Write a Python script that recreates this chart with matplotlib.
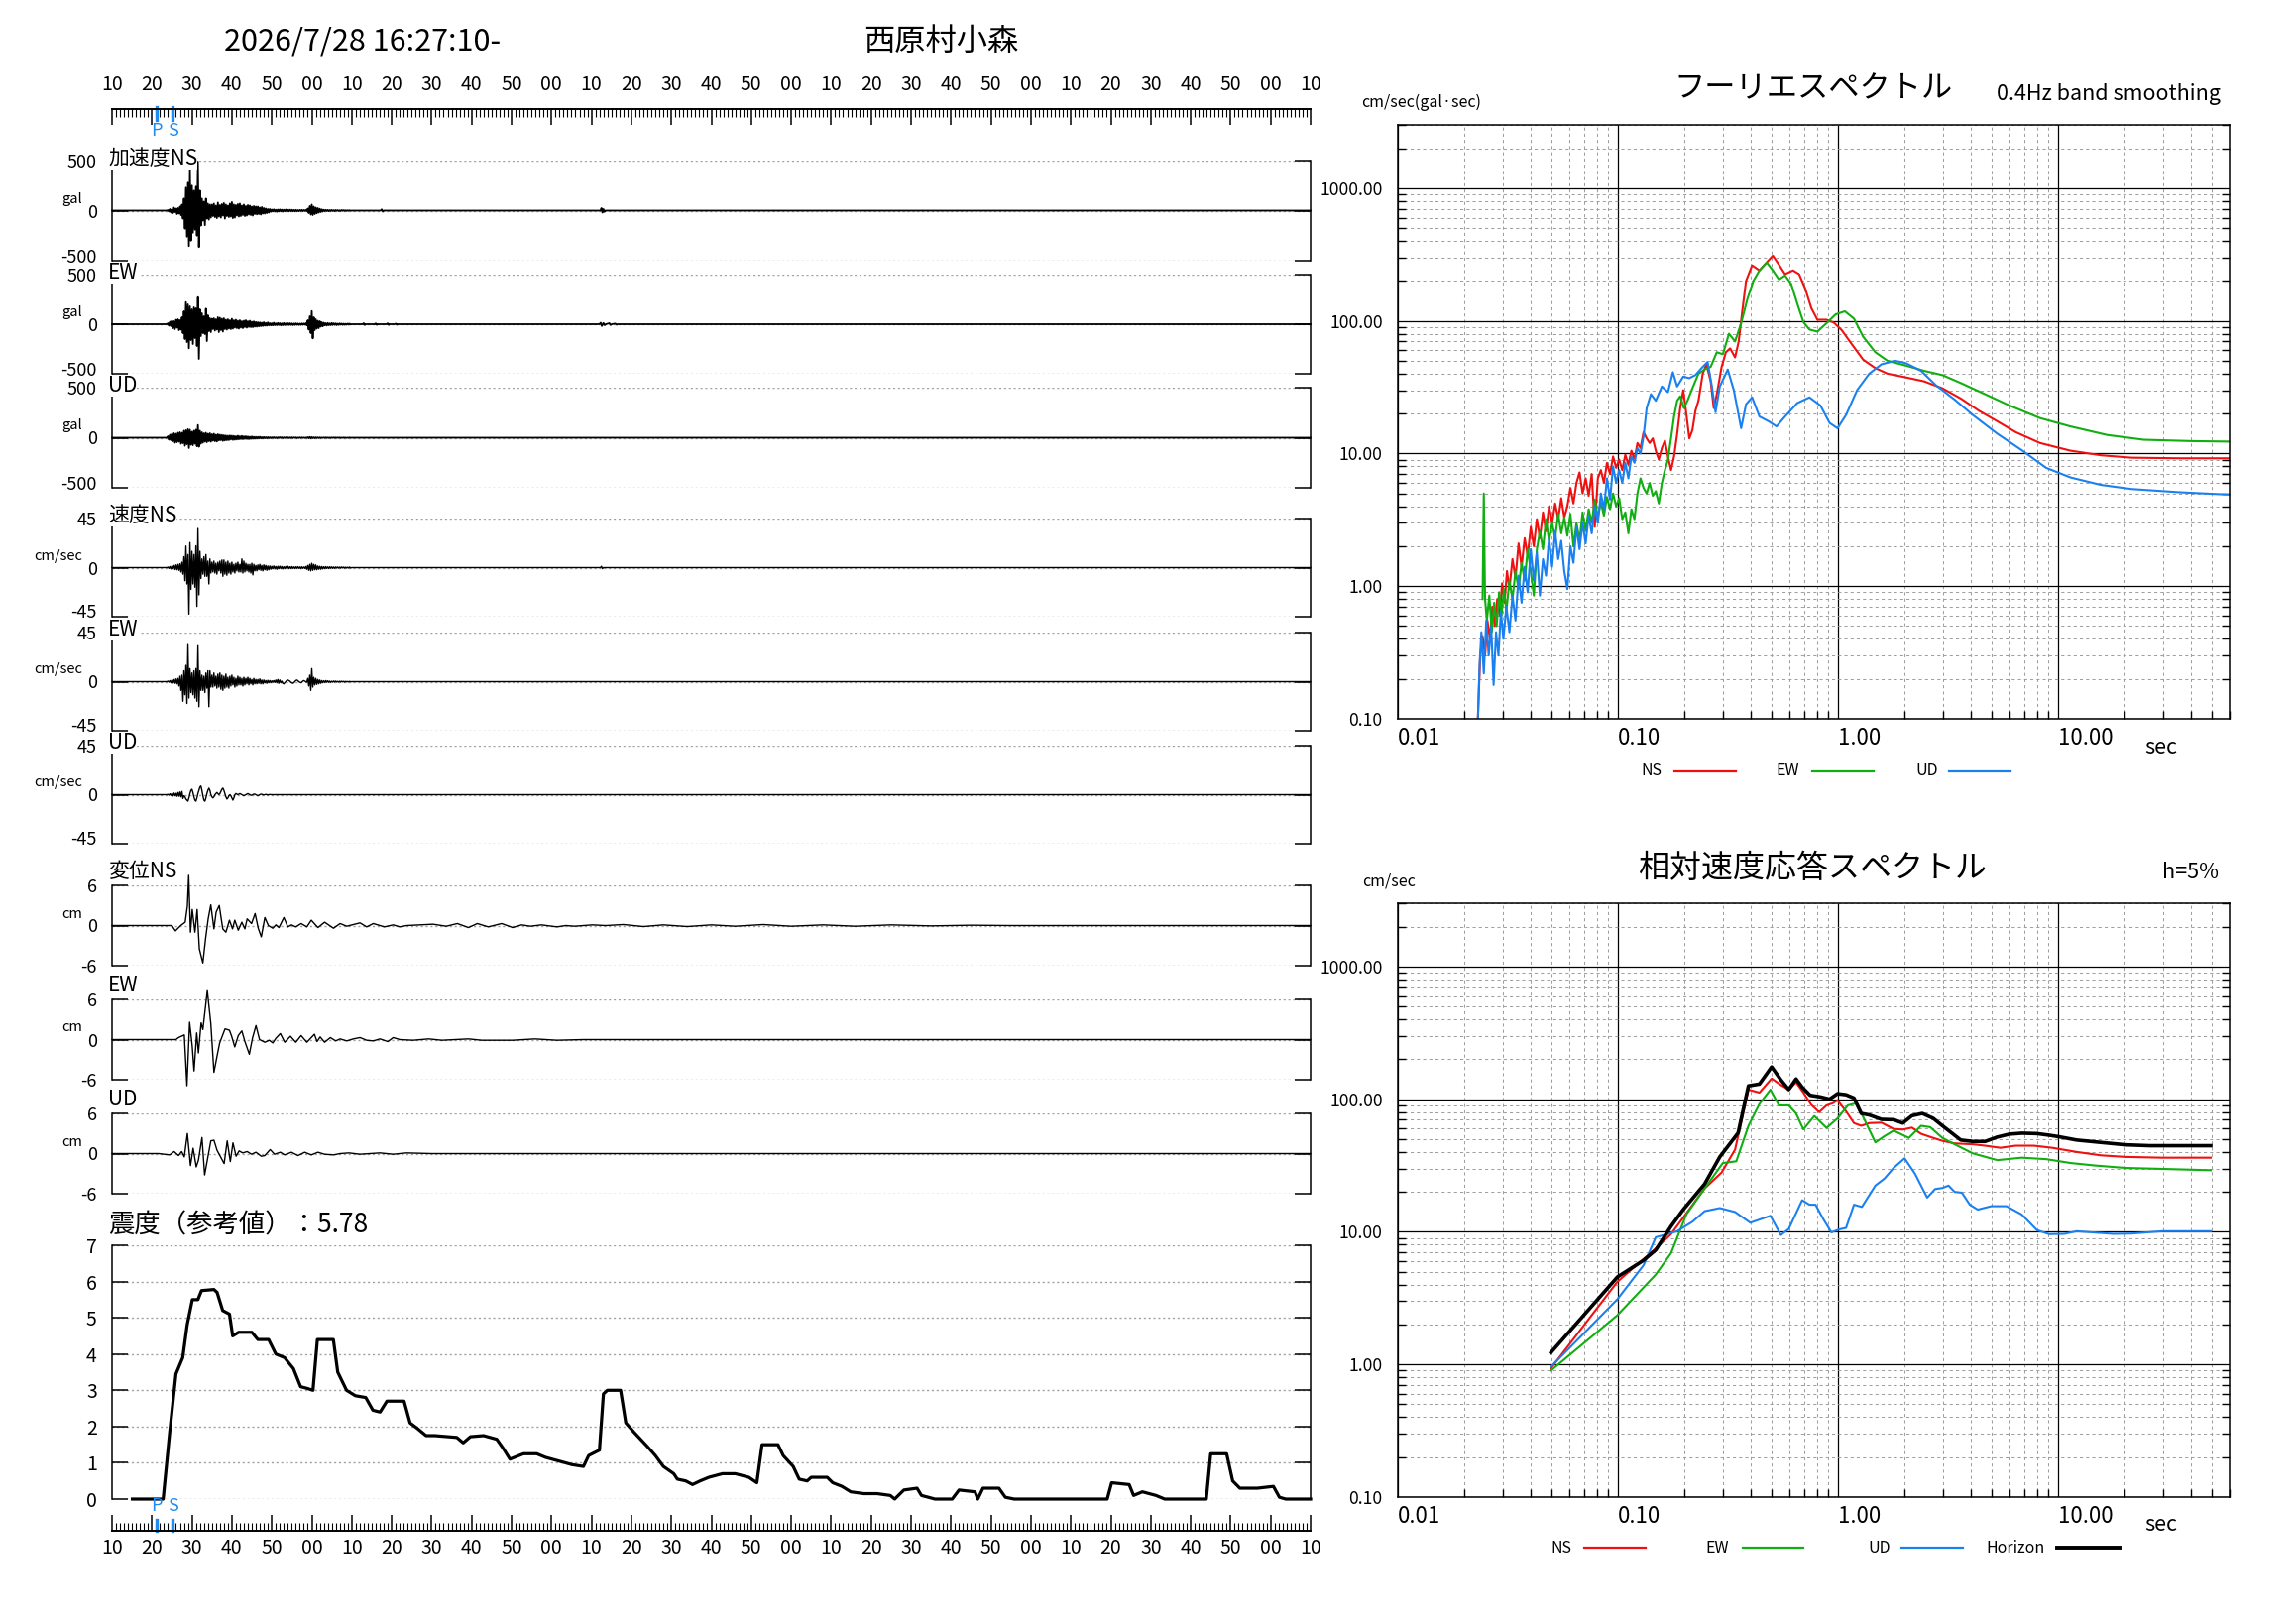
import numpy as np
import matplotlib
matplotlib.use("Agg")
import matplotlib.pyplot as plt
from matplotlib.lines import Line2D
from matplotlib.ticker import LogLocator, NullFormatter
from matplotlib.transforms import ScaledTranslation

plt.rcParams['font.family'] = ['Noto Sans CJK JP', 'DejaVu Sans']

W, H = 2316, 1637

# ---------------- data ----------------
start_label = '2026/7/28 16:27:10-'
station = '西原村小森'
start_sec = 10          # seconds part of the start time
duration = 300
p_time, s_time = 11.2, 15.2

# waveforms sampled from 14.0 s, every 0.25 s
wave_t0 = 14.0
wave_dt = 0.25

acc_ns = [5, -10, 15, -20, 10, -25, 30, -15, 20, -35, 25, -30, 40, -45, 60, -80,
          120, -180, 230, -260, 280, -354, 417, -300, 250, -220, 200, -190, 240, -250, 490, -364, 200, -150,
          120, -100, 90, -145, 120, -80, 70, -90, 60, -70,
          60, -55, 70, -65, 50, -75, 80, -60, 55, -70, 65, -50, 75, -80, 60, -55, 50, -65, 70, -60,
          85, -75, 60, -70, 55, -50, 65, -60, 70, -55, 50, -45, 60, -55, 45, -50, 55, -40, 50, -45,
          40, -50, 45, -35, 40, -38,
          40, -35, 30, -40, 35, -30, 25, -30, 20, -25, 15, -20, 15, -12,
          10, -8, 12, -10, 8, -12, 10, -9, 11, -8, 9, -10, 8, -7, 10, -9, 7, -8, 9, -6,
          8, -7, 6, -8, 7, -6, 5, -7, 6, -5, 7, -6, 5, -4, 6, -5,
          20, -25, 45, -40, 60, -45, 40, -35, 30, -28, 25, -20, 18, -15, 12, -10,
          8, -6, 7, -5, 6, -7, 5, -4, 6, -5, 4, -6, 5, -3, 4, -5, 3, -4, 5, -3, 4, -3, 3, -4, 3, -2, 3, -2]
acc_ns_late = [(67.25, 0), (67.5, 12), (67.75, -10), (68.0, 0),
               (122.25, 0), (122.5, 25), (122.75, -20), (123.0, 15), (123.25, -12), (123.5, 0)]

acc_ew = [10, -15, 25, -20, 35, -40, 30, -50, 45, -35, 50, -60, 40, -55, 70, -90,
          130, -150, 223, -180, 200, -243, 180, -160, 150, -200, 170, -140, 160, -220, 273, -350, 150, -120,
          110, -90, 80, -100, 157, -170, 90, -70, 60, -80,
          55, -50, 60, -65, 50, -55, 70, -80, 65, -60, 55, -75, 60, -50, 45, -55, 50, -45, 40, -50,
          55, -45, 40, -35, 45, -40, 35, -45, 40, -35, 30, -40, 35, -30, 40, -35, 30, -28, 35, -30,
          25, -30, 28, -25, 22, -25,
          20, -22, 18, -20, 15, -18, 20, -15, 12, -15, 18, -12, 10, -12,
          10, -12, 15, -10, 8, -10, 12, -8, 10, -12, 8, -10, 12, -9, 8, -10, 9, -8, 10, -7,
          8, -9, 7, -8, 9, -6, 7, -8, 6, -7, 8, -6, 7, -5, 10, -12,
          40, -55, 80, -90, 133, -143, 70, -60, 50, -45, 35, -40, 30, -25, 20, -22,
          15, -12, 10, -14, 12, -10, 8, -10, 12, -8, 9, -7, 8, -9, 6, -7, 8, -5, 6, -7, 5, -6, 4, -5, 6, -4, 5, -3]
acc_ew_late = [(62.75, 0), (63.0, 10), (63.25, -8), (63.5, 0), (65.75, 0), (66.0, 8), (66.25, -6), (66.5, 0),
               (68.75, 0), (69.0, 9), (69.25, -7), (69.5, 0), (70.75, 0), (71.0, 6), (71.25, -5), (71.5, 0),
               (122.0, 0), (122.3, 15), (122.6, -18), (123.0, 12), (123.3, -10), (123.6, 0),
               (124.5, 10), (124.8, -8), (125.1, 0), (126.0, 6), (126.3, -5), (126.6, 0)]

acc_ud = [15, -20, 30, -25, 40, -35, 45, -50, 40, -45, 50, -40, 55, -60, 50, -55,
          70, -80, 75, -65, 85, -103, 80, -70, 60, -75, 70, -60, 80, -85, 127, -90, 70, -60,
          55, -50, 45, -40, 50, -45, 40, -35, 45, -40,
          35, -30, 40, -35, 30, -38, 35, -28, 30, -25, 28, -32, 25, -28, 22, -25, 20, -24, 22, -18,
          20, -22, 18, -20, 15, -18, 20, -16, 15, -14, 18, -15, 14, -12, 15, -13, 12, -14, 10, -12,
          12, -10, 9, -10, 8, -9,
          8, -7, 9, -8, 6, -7, 7, -6, 5, -6, 6, -5, 4, -5,
          4, -3, 5, -4, 3, -4, 4, -3, 5, -3, 4, -4, 3, -3, 4, -3, 3, -4, 3, -3,
          4, -3, 3, -2, 3, -3, 2, -3, 3, -2, 3, -2, 2, -3, 2, -2,
          5, -6, 8, -7, 6, -5, 4, -5, 4, -3, 3, -4, 3, -3, 2, -2,
          2, -2, 3, -2, 2, -3, 2, -2, 2, -2, 3, -2, 2, -2, 2, -1, 2, -2, 1, -2, 2, -1, 1, -2, 1, -1, 2, -1]

vel_ns = [0.5, -0.8, 1.0, -1.2, 1.5, -1.0, 2.0, -1.8, 2.5, -2.0, 3.0, -2.5, 3.5, -4.0, 5.0, -6.0,
          10, -12, 19.8, -15, 12, -42.6, 23, -20, 15, -15, 12, -18, 20, -35.6, 35.9, -25, 15, -10,
          8, -6, 10, -8, 12, -8, 6, -15, 8, -5,
          5, -4, 6, -5, 4, -6, 5, -3, 6, -5, 7, -8, 7, -6, 5, -7, 6, -5, 4, -6,
          5, -4, 3, -5, 4, -3, 5, -4, 3, -4, 8, -5, 6, -4, 4, -3, 3, -4, 3, -5,
          4, -6.7, 3, -3, 2, -3,
          2.5, -2, 3, -2.5, 2, -3, 2.5, -2, 2, -2.5, 1.5, -2, 1.5, -1.5,
          1.2, -1, 1.5, -1.2, 1, -1.5, 1.2, -1, 1.3, -1, 1, -1.2, 0.8, -1, 1, -0.8, 1.2, -1, 0.8, -0.9,
          1, -0.8, 0.7, -0.9, 0.8, -0.7, 0.9, -0.8, 0.7, -1, 0.8, -0.7, 0.6, -0.8, 1, -1.5,
          2, -2.5, 3, -3, 4, -2.5, 3, -2, 2.5, -2, 1.5, -1.5, 1.2, -1.5, 1, -1.2,
          0.8, -1, 0.9, -0.8, 0.7, -0.9, 0.8, -0.6, 0.7, -0.8, 0.6, -0.7, 0.6, -0.5,
          0.6, -0.6, 0.5, -0.5, 0.6, -0.4, 0.5, -0.5, 0.4, -0.5, 0.4, -0.4, 0.5, -0.4]
vel_ns_late = [(122.25, 0), (122.5, 1.2), (122.75, -1.0), (123.0, 0)]

vel_ew = [0.5, -0.5, 1, -1, 1.5, -1.2, 2, -1.5, 2.5, -2, 3, -4, 5, -8, 6, -18,
          10, -12, 15, -20, 34, -15, 12, -10, 8, -12, 10, -15, 12, -18, 33, -23, 10, -8,
          6, -8, 5, -10, 8, -6, 10, -23, 10, -5,
          6, -5, 8, -4, 5, -6, 7, -5, 8, -7, 6, -8, 5, -6, 7, -5, 4, -6, 5, -4,
          6, -3, 4, -5, 3, -4, 5, -3, 4, -3, 3, -4, 4, -3, 3, -2, 4, -3, 3, -2,
          2, -3, 3, -2, 2, -2,
          2, -1.5, 2.5, -2, 1.5, -2, 1.5, -1.2, 1, -1.5, 1.2, -1, 1, -1,
          0.8, -0.5, 1, -0.8, 1.5, -1, 2, -1.5, 1.5, -1, 0.5, -1.5, -2, -1, 0, 1, 1.5, 1, 0.5, -0.5,
          -1, -1.5, -1, 0, 1, 1.5, 1, 0, -0.5, -1, -0.5, 0.5, 1, 0.5, 0, -0.5,
          3, -4, 6, -8, 12, -5, 4, -3, 3, -2.5, 2, -2, 1.5, -1.5, 1, -1,
          0.8, -0.8, 1, -0.6, 0.8, -0.7, 0.5, -0.6, 0.4, -0.5, 0.6, -0.4, 0.5, -0.4,
          0.3, -0.5, 0.4, -0.3, 0.4, -0.3, 0.3, -0.4, 0.3, -0.3, 0.2, -0.3, 0.3, -0.2]

vel_ud = [0.3, -0.5, 0.8, -0.6, 1.0, -1.2, 1.5, -1.0, 1.2, -1.5, 2, -1.5, 2.5, -2, 3, -3.5,
          -1, -2, -4, -5, -6, -3, 1, 4, 5, 2, -2, -5, -6, -3, 1, 4, 7, 8,
          4, -1, -5, -6, -3, 1, 4, 6, 4, 0,
          -2, -3, -2, 0, 1, 2, 1, 0, 1, 3, 5, 6, 4, 1, -2, -4, -3, -1, 0, -1,
          -3, -5, -3, 0, 1, 0.5, 0, 0.5, 1, 0.5, 0, -0.5, -1, -0.5, 0, 0.5, 1, 0.5, 0, -0.5,
          -0.5, 0, 0.5, 0.5, 0, -0.5,
          -1, -0.5, 0, 0.5, 0.3, 0, -0.3, 0, 0.3, 0, -0.2, 0, 0.2, 0]

# displacement: (time s, cm)
disp_ns = [(0, 0), (11.66, 0), (14.98, 0), (15.87, -0.8), (17.20, 0.0), (18.31, 0.5), (18.86, 2.9),
           (19.19, 7.5), (19.64, -1.0), (20.08, 2.4), (20.75, -1.0), (21.30, 2.4), (21.86, -3.5),
           (22.74, -5.6), (23.41, -2.0), (24.07, 1.0), (24.73, 3.1), (25.51, -0.5), (26.06, 2.0),
           (26.84, 3.0), (27.72, -0.5), (28.50, -1.0), (29.39, 0.8), (30.16, -0.5), (30.72, 0.8),
           (31.60, -0.7), (32.49, 0.5), (33.26, -0.5), (33.82, 1.0), (34.93, 0.3), (35.81, 1.8),
           (36.59, -0.4), (37.36, -1.7), (38.25, 1.2), (39.13, 0.0), (40.24, -0.4), (41.02, 0.1),
           (41.79, -0.3), (43.01, 1.2), (44.01, -0.2), (44.89, 0.1), (46.00, -0.2), (47.33, 0.3),
           (48.77, -0.2), (49.88, 0.8), (51.54, -0.3), (53.21, 0.5), (55.43, -0.4), (57.09, 0.3),
           (58.75, -0.1), (62.07, 0.4), (63.73, -0.2), (65.40, 0.3), (68.17, -0.2), (70.38, 0.1),
           (72.04, -0.2), (73.70, 0.0), (80.35, 0.2), (83.67, -0.1), (86.44, 0.3), (89.21, -0.3),
           (91.43, 0.3), (94.19, -0.2), (97.52, 0.3), (100.29, -0.3), (102.50, 0.1), (104.72, -0.1),
           (107.49, 0.1), (111.37, -0.2), (113.58, 0.0), (115.80, -0.1), (120.23, 0.1), (123.56, 0.0),
           (128, 0.15), (133, -0.15), (138, 0.1), (144, -0.15), (150, 0.1), (156, -0.1), (163, 0.15),
           (170, -0.1), (178, 0.1), (186, -0.1), (195, 0.1), (205, -0.05), (215, 0.05), (225, 0), (300, 0)]

disp_ew = [(0, 0), (11.66, 0), (16.0, 0), (16.65, 0.3), (17.75, 0.6), (18.09, 0.7), (18.75, -6.9),
           (19.42, 2.6), (20.08, -1.0), (20.53, -4.7), (21.19, 1.0), (21.63, -2.0), (22.30, 2.5),
           (22.74, 1.5), (23.41, 5.0), (23.85, 7.3), (24.73, 2.4), (25.51, -4.9), (26.28, -2.5),
           (26.95, -0.5), (28.28, 1.6), (29.39, 1.4), (29.94, 0.5), (30.72, -1.1), (31.60, 0.6),
           (32.49, 1.3), (33.26, -0.3), (34.37, -2.2), (35.15, 0.2), (36.03, 2.1), (36.92, 0.0),
           (38.25, -0.4), (39.35, -0.1), (40.24, -0.5), (41.02, 0.2), (42.13, 0.9), (43.23, -0.4),
           (44.67, 0.5), (46.00, -0.4), (47.33, 0.6), (48.77, -0.4), (50.66, 0.8), (51.32, -0.3),
           (52.10, 0.4), (53.21, -0.4), (54.65, 0.3), (55.98, -0.2), (57.09, 0.1), (58.75, -0.2),
           (60.41, 0.1), (62.07, 0.3), (63.73, -0.1), (65.40, -0.2), (67.06, 0.1), (69.05, -0.3),
           (70.38, 0.3), (72.04, 0.0), (75.36, -0.1), (79.24, 0.1), (82.56, -0.1), (89.21, 0.1),
           (92.53, -0.1), (100.29, -0.1), (105.83, 0.1), (111.37, -0.1), (118, 0), (300, 0)]

disp_ud = [(0, 0), (11.66, 0), (14.43, -0.2), (15.54, 0.3), (16.65, -0.3), (17.42, 0.3), (18.09, -0.5),
           (18.86, 3.0), (19.64, -1.8), (20.30, 0.8), (21.08, -2.0), (21.63, -1.0), (22.52, 2.4),
           (23.18, -3.2), (23.85, -1.0), (24.73, 1.9), (25.51, 2.0), (26.28, 0.5), (27.17, -0.5),
           (28.06, -1.5), (28.83, 1.9), (29.61, -1.2), (30.27, 1.6), (31.05, -0.4), (31.82, 0.4),
           (32.71, 0.1), (33.82, 0.3), (34.93, -0.1), (36.03, 0.2), (37.36, -0.4), (38.25, -0.3),
           (39.58, 0.6), (40.68, -0.1), (42.13, 0.2), (43.23, -0.2), (44.89, 0.2), (46.56, -0.3),
           (48.22, 0.2), (49.88, -0.2), (51.54, 0.2), (53.21, -0.1), (55.43, -0.2), (57.09, 0.0),
           (59.30, 0.1), (62.07, -0.1), (67.06, 0.1), (70.38, -0.1), (73.70, 0.1), (80, 0), (300, 0)]

# seismic intensity (time s, value)
intensity = [(5.1, 0), (12.8, 0), (14.4, 1.8), (16.0, 3.45), (17.7, 3.9), (18.8, 4.8), (20.1, 5.5),
             (21.5, 5.5), (22.4, 5.75), (25.5, 5.78), (26.3, 5.7), (27.7, 5.2), (29.4, 5.1), (30.2, 4.5),
             (31.7, 4.6), (35.0, 4.6), (36.5, 4.4), (39.2, 4.4), (41.0, 4.0), (43.2, 3.9), (45.4, 3.6),
             (47.2, 3.1), (48.9, 3.05), (50.3, 3.0), (51.4, 4.4), (55.4, 4.4), (56.5, 3.5), (58.7, 3.0),
             (60.9, 2.85), (63.5, 2.8), (65.3, 2.45), (67.1, 2.4), (68.8, 2.7), (73.1, 2.7), (74.6, 2.1),
             (76.4, 1.95), (78.6, 1.75), (80.8, 1.75), (86.3, 1.7), (87.9, 1.55), (89.7, 1.72), (93.0, 1.75),
             (96.3, 1.65), (97.9, 1.4), (99.6, 1.1), (103.0, 1.25), (106.3, 1.25), (108.5, 1.15),
             (111.8, 1.05), (115.1, 0.95), (118.0, 0.9), (119.3, 1.2), (122.0, 1.35), (123.0, 2.9),
             (124.0, 3.0), (127.3, 3.0), (128.6, 2.1), (130.6, 1.85), (134.0, 1.45), (136.0, 1.2),
             (138.0, 0.9), (140.6, 0.7), (141.5, 0.55), (143.6, 0.5), (145.3, 0.4), (147.2, 0.5),
             (149.4, 0.6), (152.8, 0.7), (156.0, 0.7), (159.4, 0.6), (161.4, 0.45), (162.7, 1.5),
             (166.7, 1.5), (168.0, 1.2), (170.5, 0.9), (172.0, 0.55), (174.0, 0.5), (175.0, 0.6),
             (179.0, 0.6), (180.4, 0.45), (182.7, 0.35), (184.9, 0.2), (188.2, 0.15), (191.5, 0.15),
             (194.8, 0.1), (195.9, 0.0), (198.2, 0.25), (201.5, 0.3), (202.6, 0.1), (206.0, 0.0),
             (210.3, 0.0), (212.0, 0.25), (216.0, 0.2), (216.7, 0.0), (218.0, 0.3), (222.0, 0.3),
             (223.6, 0.05), (225.8, 0.0), (249.1, 0.0), (250.2, 0.45), (254.6, 0.4), (255.7, 0.1),
             (257.9, 0.2), (261.3, 0.1), (263.5, 0.0), (273.9, 0.0), (275.0, 1.25), (279.0, 1.25),
             (280.5, 0.5), (282.3, 0.3), (286.7, 0.3), (290.7, 0.35), (292.2, 0.05), (293.8, 0.0),
             (300.0, 0.0)]

# Fourier spectra (period s, cm/sec)
fs_ns = [(0.02306, 0.09), (0.02366, 0.30), (0.02427, 0.42), (0.02490, 0.30), (0.02554, 0.55),
         (0.02620, 0.40), (0.02688, 0.70), (0.02757, 0.50), (0.02829, 0.80), (0.02902, 0.60),
         (0.02977, 1.05), (0.03054, 0.75), (0.03132, 1.30), (0.03213, 0.95), (0.03317, 1.60),
         (0.03424, 1.15), (0.03536, 2.1), (0.03650, 1.4), (0.03769, 2.3), (0.03890, 1.7),
         (0.04017, 2.8), (0.04147, 2.0), (0.04281, 3.2), (0.04420, 2.3), (0.04563, 3.6),
         (0.04711, 2.6), (0.04864, 4.0), (0.05021, 3.0), (0.05184, 4.2), (0.05352, 3.2),
         (0.05525, 4.6), (0.05704, 3.3), (0.05889, 4.0), (0.06080, 5.5), (0.06277, 4.2),
         (0.06480, 6.0), (0.06690, 7.2), (0.06907, 5.0), (0.07131, 6.5), (0.07362, 4.8),
         (0.07600, 7.0), (0.07847, 2.8), (0.08101, 6.5), (0.08363, 7.5), (0.08634, 6.0),
         (0.08914, 8.5), (0.09204, 7.0), (0.09502, 9.5), (0.09810, 7.8), (0.1013, 9.0),
         (0.1046, 7.5), (0.1080, 9.8), (0.1115, 8.2), (0.1151, 10.5), (0.1188, 9.0),
         (0.1226, 12.0), (0.1266, 11.0), (0.1307, 14.5), (0.1350, 13.0), (0.1393, 12.0),
         (0.1439, 13.0), (0.1485, 10.5), (0.1533, 9.0), (0.1583, 11.0), (0.1634, 12.5),
         (0.1687, 9.5), (0.1742, 7.5), (0.1798, 9.5), (0.1857, 14.0), (0.1917, 22.0),
         (0.1979, 30.0), (0.2043, 20.0), (0.2109, 13.0), (0.2178, 15.0), (0.2248, 21.0),
         (0.2321, 25.0), (0.2427, 40.0), (0.2522, 47.0), (0.2637, 35.0), (0.2723, 22.0),
         (0.2811, 28.0), (0.2957, 45.0), (0.3092, 58.0), (0.3233, 62.0), (0.3403, 53.0),
         (0.3535, 70.0), (0.3673, 120.0), (0.3817, 200.0), (0.4068, 262.0), (0.4391, 240.0),
         (0.4683, 270.0), (0.5053, 310.0), (0.5386, 265.0), (0.5741, 225.0), (0.6237, 240.0),
         (0.6648, 225.0), (0.7087, 175.0), (0.7554, 125.0), (0.8050, 102.0), (0.8859, 102.0),
         (0.9563, 97.0), (1.039, 85.0), (1.144, 68.0), (1.299, 51.0), (1.476, 44.0),
         (1.676, 40.0), (2.030, 37.5), (2.458, 35.0), (2.977, 31.0), (3.605, 26.0),
         (4.364, 21.0), (5.285, 17.5), (6.400, 14.5), (8.259, 12.0), (11.36, 10.5),
         (15.63, 9.7), (21.50, 9.3), (35.81, 9.2), (59.66, 9.2)]

fs_ew = [(0.02427, 0.8), (0.02458, 5.0), (0.02490, 0.8), (0.02538, 0.55), (0.02604, 0.85),
         (0.02671, 0.45), (0.02740, 0.75), (0.02811, 0.50), (0.02884, 0.90), (0.02958, 0.60),
         (0.03034, 0.95), (0.03112, 0.65), (0.03213, 1.1), (0.03317, 0.8), (0.03424, 1.3),
         (0.03536, 0.95), (0.03650, 1.5), (0.03769, 1.1), (0.03890, 1.9), (0.04017, 1.3),
         (0.04147, 0.85), (0.04281, 1.9), (0.04420, 2.6), (0.04563, 1.9), (0.04711, 3.2),
         (0.04864, 2.2), (0.05021, 3.0), (0.05184, 2.3), (0.05352, 3.5), (0.05525, 2.5),
         (0.05704, 3.3), (0.05889, 2.4), (0.06080, 3.5), (0.06277, 2.0), (0.06480, 3.0),
         (0.06690, 2.2), (0.06907, 3.6), (0.07131, 2.6), (0.07362, 3.8), (0.07600, 3.0),
         (0.07847, 4.5), (0.08101, 3.3), (0.08363, 4.3), (0.08634, 3.4), (0.08914, 4.7),
         (0.09204, 3.8), (0.09502, 5.0), (0.09810, 4.0), (0.1013, 4.6), (0.1046, 3.2),
         (0.1080, 3.6), (0.1115, 2.5), (0.1151, 3.8), (0.1188, 3.2), (0.1226, 5.0),
         (0.1266, 6.5), (0.1307, 5.5), (0.1350, 5.0), (0.1393, 6.0), (0.1439, 4.8),
         (0.1485, 5.2), (0.1533, 4.2), (0.1583, 6.0), (0.1634, 7.5), (0.1687, 9.0),
         (0.1742, 13.0), (0.1798, 19.0), (0.1857, 25.0), (0.1917, 27.0), (0.1992, 22.0),
         (0.2069, 25.0), (0.2178, 31.0), (0.2321, 40.0), (0.2474, 43.0), (0.2637, 45.0),
         (0.2811, 58.0), (0.2995, 56.0), (0.3192, 80.0), (0.3403, 70.0), (0.3626, 96.0),
         (0.3866, 145.0), (0.4121, 200.0), (0.4391, 240.0), (0.4743, 275.0), (0.5053, 240.0),
         (0.5386, 205.0), (0.5741, 220.0), (0.6119, 190.0), (0.6522, 135.0), (0.6953, 98.0),
         (0.7411, 86.0), (0.8050, 83.0), (0.8859, 96.0), (0.9748, 112.0), (1.073, 118.0),
         (1.180, 104.0), (1.299, 76.0), (1.476, 58.0), (1.676, 50.0), (2.030, 46.0),
         (2.458, 42.0), (2.977, 39.0), (3.605, 34.0), (4.651, 28.0), (6.004, 23.0),
         (8.259, 18.5), (11.36, 16.0), (16.66, 13.8), (24.43, 12.7), (40.68, 12.4), (59.66, 12.3)]

fs_ud = [(0.02306, 0.09), (0.02351, 0.25), (0.02396, 0.45), (0.02458, 0.22), (0.02522, 0.55),
         (0.02587, 0.30), (0.02654, 0.50), (0.02723, 0.18), (0.02793, 0.45), (0.02865, 0.30),
         (0.02939, 0.65), (0.03015, 0.40), (0.03112, 0.70), (0.03213, 0.45), (0.03317, 0.85),
         (0.03424, 0.55), (0.03536, 1.2), (0.03650, 0.75), (0.03769, 1.4), (0.03890, 0.9),
         (0.04017, 1.9), (0.04147, 1.1), (0.04281, 1.8), (0.04420, 0.85), (0.04563, 1.6),
         (0.04711, 1.2), (0.04864, 2.3), (0.05021, 1.4), (0.05184, 2.6), (0.05352, 1.6),
         (0.05525, 2.2), (0.05704, 1.3), (0.05889, 0.95), (0.06080, 2.0), (0.06277, 1.5),
         (0.06480, 2.8), (0.06690, 1.9), (0.06907, 3.0), (0.07131, 2.1), (0.07362, 3.4),
         (0.07600, 2.5), (0.07847, 4.0), (0.08101, 3.0), (0.08363, 5.0), (0.08634, 3.8),
         (0.08914, 6.5), (0.09204, 4.5), (0.09502, 8.0), (0.09810, 6.0), (0.1013, 7.5),
         (0.1046, 6.0), (0.1080, 8.5), (0.1115, 6.5), (0.1151, 9.5), (0.1188, 8.5),
         (0.1226, 11.0), (0.1266, 10.0), (0.1307, 13.5), (0.1350, 22.0), (0.1411, 28.0),
         (0.1485, 25.0), (0.1583, 32.0), (0.1687, 29.0), (0.1776, 41.0), (0.1857, 32.0),
         (0.1979, 38.0), (0.2109, 37.0), (0.2248, 39.0), (0.2396, 44.0), (0.2553, 49.0),
         (0.2671, 32.0), (0.2775, 20.5), (0.2901, 32.0), (0.3152, 43.0), (0.3359, 30.0),
         (0.3626, 15.5), (0.3817, 23.5), (0.4068, 26.5), (0.4391, 19.0), (0.4834, 17.5),
         (0.5251, 16.0), (0.5741, 19.0), (0.6522, 24.0), (0.7411, 26.5), (0.8311, 23.0),
         (0.9146, 17.0), (0.9936, 15.5), (1.086, 19.5), (1.219, 30.0), (1.385, 40.0),
         (1.573, 47.0), (1.810, 50.0), (2.030, 48.0), (2.381, 42.0), (2.793, 32.5),
         (3.382, 25.5), (4.094, 19.5), (5.285, 14.1), (6.822, 10.6), (8.803, 7.8),
         (11.36, 6.6), (15.63, 5.8), (21.50, 5.4), (35.81, 5.1), (59.66, 4.9)]

# relative velocity response spectra, h=5% (period s, cm/sec)
rs_ns = [(0.0496, 0.935), (0.0994, 4.2), (0.1485, 7.5), (0.1742, 9.6), (0.2474, 21.2), (0.2957, 28),
         (0.3403, 41.7), (0.3915, 118), (0.4391, 112), (0.4990, 143), (0.5490, 128), (0.5965, 118),
         (0.6441, 134), (0.6953, 112), (0.7554, 90.6), (0.8205, 79.8), (0.8859, 89.7), (0.9443, 93),
         (0.9936, 98), (1.0864, 81), (1.180, 66), (1.274, 63), (1.385, 66), (1.573, 66.5),
         (1.787, 59.6), (1.966, 59), (2.164, 61), (2.381, 54.8), (2.705, 51), (2.977, 48.5),
         (3.382, 46.4), (4.094, 45.7), (4.651, 44.6), (5.456, 43), (6.400, 44.6), (7.749, 44.6),
         (9.382, 43), (12.11, 40), (15.63, 37.7), (20.17, 36.7), (29.58, 36.2), (49.27, 36.2)]

rs_ew = [(0.0496, 0.90), (0.0994, 2.35), (0.1485, 4.76), (0.1742, 6.9), (0.2043, 13.5), (0.2474, 21.2),
         (0.2995, 33), (0.3447, 34), (0.3915, 63), (0.4391, 92), (0.4926, 118), (0.5386, 89.7),
         (0.5965, 89.7), (0.6441, 78), (0.6953, 59.2), (0.7798, 74.6), (0.8859, 60.7), (0.9936, 71.6),
         (1.107, 89.7), (1.203, 93), (1.299, 73.5), (1.476, 47.2), (1.624, 52.6), (1.787, 58),
         (2.095, 51), (2.381, 63), (2.620, 61.5), (2.977, 51), (3.382, 45.7), (4.094, 39),
         (5.285, 34.7), (6.822, 36.2), (8.803, 35.3), (11.36, 33), (14.66, 31.6), (20.17, 30.3),
         (29.58, 29.8), (49.27, 29.1)]

rs_ud = [(0.0496, 0.96), (0.0994, 3.1), (0.1307, 5.6), (0.1485, 9.1), (0.1634, 9.5), (0.1857, 10.1),
         (0.2178, 11.9), (0.2474, 14.3), (0.2901, 15.1), (0.3403, 14.1), (0.3991, 11.7), (0.4926, 13.2),
         (0.5490, 9.45), (0.5965, 10.5), (0.6865, 17.3), (0.7411, 16), (0.7898, 16), (0.8580, 12.4),
         (0.9323, 9.9), (1.0064, 10.4), (1.0864, 10.7), (1.180, 16), (1.282, 15.4), (1.476, 22.3),
         (1.624, 25.2), (1.787, 30.3), (2.004, 35.8), (2.234, 27.4), (2.538, 18.1), (2.757, 21),
         (2.977, 21.4), (3.173, 22.3), (3.382, 20), (3.651, 19.7), (3.965, 16), (4.308, 14.7),
         (4.960, 15.6), (5.816, 15.6), (6.822, 13.5), (7.998, 10.3), (9.087, 9.6), (10.66, 9.65),
         (12.11, 10.1), (17.75, 9.65), (21.50, 9.7), (29.58, 10.1), (49.27, 10.1)]

rs_hor = [(0.0496, 1.23), (0.0994, 4.56), (0.1307, 6.1), (0.1485, 7.3), (0.1742, 11.0), (0.1979, 14.7),
          (0.2474, 22.9), (0.2901, 36.7), (0.3514, 55.7), (0.3915, 126), (0.4391, 130), (0.4990, 175),
          (0.5490, 140), (0.5965, 118), (0.6441, 142), (0.6865, 123), (0.7460, 107), (0.8311, 104),
          (0.9146, 100), (0.9936, 110), (1.0864, 108), (1.180, 102), (1.274, 78), (1.385, 76),
          (1.573, 70.4), (1.787, 70), (1.966, 66), (2.164, 75), (2.412, 78), (2.705, 71.6),
          (2.977, 63), (3.275, 55.7), (3.605, 49.2), (4.094, 48), (4.651, 48), (5.285, 51.8),
          (6.004, 54.5), (6.822, 55.4), (7.998, 55), (9.087, 53.5), (10.0, 52.2), (12.11, 49.2),
          (15.63, 47.2), (20.17, 45.3), (26.03, 44.6), (49.27, 44.6)]

RED, GREEN, BLUE, PS_BLUE = '#f01010', '#10ae10', '#1a80f0', '#1e8cf0'
GRID_GRAY = '#a0a0a0'

# ---------------- figure ----------------
fig = plt.figure(figsize=(W / 100, H / 100), dpi=100)


def box(x0, y0, x1, y1):
    return [x0 / W, 1 - y1 / H, (x1 - x0) / W, (y1 - y0) / H]


def ftext(x, y, s, **kw):
    return fig.text(x / W, 1 - y / H, s, **kw)


def fline(x0, x1, y, **kw):
    fig.add_artist(Line2D([x0 / W, x1 / W], [1 - y / H, 1 - y / H],
                          transform=fig.transFigure, **kw))


def build(vals, late=()):
    t = wave_t0 + wave_dt * np.arange(len(vals))
    tt = [0.0, wave_t0 - wave_dt] + list(t) + [t[-1] + wave_dt] + [p[0] for p in late] + [duration]
    vv = [0.0, 0.0] + list(vals) + [0.0] + [p[1] for p in late] + [0.0]
    return tt, vv


X0, X1 = 113, 1322

ftext(226, 42, start_label, fontsize=22, va='center')
ftext(949, 42, station, fontsize=22.5, ha='center', va='center')


def wave_panel(top, bot, t, v, lim, unit, name, name_dy, lw, low_shift):
    ax = fig.add_axes(box(X0, top, X1, bot))
    ax.plot(t, v, color='black', lw=lw, clip_on=False, zorder=3)
    ax.set_xlim(0, duration)
    ax.set_ylim(-lim, lim)
    ax.set_xticks([])
    ax.set_yticks([-lim, 0, lim])
    ax.set_yticklabels(['-%d' % lim, '0', '%d' % lim])
    ax.grid(axis='y', color=GRID_GRAY, ls=(0, (1.5, 2.0)), lw=1.0)
    for s in ('top', 'bottom'):
        ax.spines[s].set_visible(False)
    for s in ('left', 'right'):
        ax.spines[s].set_linewidth(1.1)
    ax.tick_params(axis='y', direction='in', length=11.5, width=1.1, left=True, right=True,
                   labelsize=13, pad=11)
    # lift the lower limit label a little, as in the original sheet
    lab = ax.get_yticklabels()[0]
    lab.set_transform(lab.get_transform() + ScaledTranslation(0, low_shift / 100, fig.dpi_scale_trans))
    zero = (top + bot) / 2
    ftext(83, zero - 12, unit, fontsize=10.5, ha='right', va='center')
    ftext(109, top - name_dy, name, fontsize=15, va='center',
          bbox=dict(fc='white', ec='none', pad=0))
    return ax


acc_panels = [(162, 263, acc_ns, acc_ns_late, '加速度NS'),
              (277, 377, acc_ew, acc_ew_late, 'EW'),
              (391, 492, acc_ud, (), 'UD')]
for top, bot, vals, late, name in acc_panels:
    t, v = build(vals, late)
    wave_panel(top, bot, t, v, 500, 'gal', name, 2, 1.3, 5)

vel_panels = [(523, 622, vel_ns, vel_ns_late, '速度NS'),
              (638, 737, vel_ew, (), 'EW'),
              (752, 851, vel_ud, (), 'UD')]
for top, bot, vals, late, name in vel_panels:
    t, v = build(vals, late)
    wave_panel(top, bot, t, v, 45, 'cm/sec', name, 3, 1.0, 6)

disp_panels = [(893, 974, disp_ns, '変位NS'),
               (1008, 1089, disp_ew, 'EW'),
               (1123, 1204, disp_ud, 'UD')]
for top, bot, pairs, name in disp_panels:
    t, v = np.array(pairs).T
    wave_panel(top, bot, t, v, 6, 'cm', name, 14, 1.0, 0)

# intensity
ax_i = fig.add_axes(box(X0, 1256, X1, 1512))
it, iv = np.array(intensity).T
ax_i.plot(it, iv, color='black', lw=2.3, clip_on=False, zorder=3)
ax_i.set_xlim(0, duration)
ax_i.set_ylim(0, 7)
ax_i.set_xticks([])
ax_i.set_yticks(range(8))
ax_i.grid(axis='y', color=GRID_GRAY, ls=(0, (1.5, 2.0)), lw=1.0)
for s in ('top', 'bottom'):
    ax_i.spines[s].set_visible(False)
for s in ('left', 'right'):
    ax_i.spines[s].set_linewidth(1.1)
ax_i.tick_params(axis='y', direction='in', length=11.5, width=1.1, left=True, right=True,
                 labelsize=14, pad=11)
ftext(109, 1236, '震度（参考値）：%.2f' % iv.max(), fontsize=19, va='center')


def time_axis(y_line, where):
    if where == 'top':
        ax = fig.add_axes(box(X0, y_line, X1, y_line + 20))
    else:
        ax = fig.add_axes(box(X0, y_line - 20, X1, y_line))
    ax.set_xlim(0, duration)
    ax.set_ylim(0, 1)
    ax.patch.set_alpha(0)
    for s in ax.spines:
        ax.spines[s].set_visible(s == where)
    ax.spines[where].set_linewidth(1.4)
    ax.set_yticks([])
    major = np.arange(0, duration + 1, 10)
    ax.set_xticks(major)
    ax.set_xticklabels(['%02d' % ((start_sec + m) % 60) for m in major])
    ax.set_xticks(np.arange(0, duration + 1, 1), minor=True)
    ax.xaxis.set_ticks_position(where)
    ax.tick_params(axis='x', which='major', direction='in', length=11.5, width=1.1,
                   labelsize=14, pad=10 if where == 'top' else 5)
    ax.tick_params(axis='x', which='minor', direction='in', length=5.5, width=0.8)
    return ax


ax_top = time_axis(110, 'top')
ax_bot = time_axis(1544, 'bottom')
for ax, ybar, ylab in ((ax_top, (1.1, 0.45), -0.1), (ax_bot, (0.0, 0.55), 1.25)):
    for tm, lab in ((p_time, 'P'), (s_time, 'S')):
        ax.plot([tm, tm], ybar, color=PS_BLUE, lw=2.4, clip_on=False)
        ax.text(tm, ylab, lab, color=PS_BLUE, fontsize=13, ha='center', va='center', clip_on=False)

# ---------------- spectra ----------------
SX0, SX1 = 1410, 2249


def spectrum_axes(top, bot):
    ax = fig.add_axes(box(SX0, top, SX1, bot))
    ax.set_xscale('log')
    ax.set_yscale('log')
    ax.set_xlim(0.01, 60)
    ax.set_ylim(0.1, 3000)
    ax.set_xticks([0.01, 0.1, 1, 10])
    ax.set_xticklabels(['0.01', '0.10', '1.00', '10.00'])
    ax.set_yticks([0.1, 1, 10, 100, 1000])
    ax.set_yticklabels(['0.10', '1.00', '10.00', '100.00', '1000.00'])
    for axis in (ax.xaxis, ax.yaxis):
        axis.set_minor_locator(LogLocator(base=10, subs=np.arange(2, 10)))
        axis.set_minor_formatter(NullFormatter())
    ax.grid(which='major', color='black', lw=0.9)
    ax.grid(which='minor', color=GRID_GRAY, ls=(0, (3, 3)), lw=0.75)
    ax.tick_params(which='major', length=0)
    ax.tick_params(axis='y', which='major', labelsize=12.7, pad=11)
    ax.tick_params(axis='x', which='major', labelsize=16, pad=6)
    ax.tick_params(which='minor', direction='in', length=6, width=1.0,
                   left=True, right=True, bottom=True, top=False)
    for lab in ax.get_xticklabels():
        lab.set_ha('left')
    for s in ax.spines.values():
        s.set_linewidth(1.1)
    return ax


ax_f = spectrum_axes(126, 725)
for pairs, col in ((fs_ns, RED), (fs_ew, GREEN), (fs_ud, BLUE)):
    T, A = np.array(pairs).T
    ax_f.plot(T, A, color=col, lw=1.5)
ftext(1373, 103, 'cm/sec(gal·sec)', fontsize=11.5, va='center')
ftext(1829, 89, 'フーリエスペクトル', fontsize=22.5, ha='center', va='center')
ftext(2014, 95, '0.4Hz band smoothing', fontsize=15.5, va='center')
ftext(2163, 754, 'sec', fontsize=15.5, va='center')
for name, col, tx, lx0, lx1 in (('NS', RED, 1655, 1689, 1751),
                                ('EW', GREEN, 1791, 1828, 1890),
                                ('UD', BLUE, 1932, 1966, 2028)):
    ftext(tx, 778, name, fontsize=11.5, va='center')
    fline(lx0, lx1, 778, color=col, lw=1.6)

ax_r = spectrum_axes(911, 1510)
for pairs, col, lw in ((rs_ns, RED, 1.5), (rs_ew, GREEN, 1.5), (rs_ud, BLUE, 1.5), (rs_hor, 'black', 2.6)):
    T, A = np.array(pairs).T
    ax_r.plot(T, A, color=col, lw=lw)
ftext(1374, 889, 'cm/sec', fontsize=11.5, va='center')
ftext(1828, 876, '相対速度応答スペクトル', fontsize=23, ha='center', va='center')
ftext(2181, 880, 'h=5%', fontsize=15.5, va='center')
ftext(2163, 1538, 'sec', fontsize=15.5, va='center')
for name, col, tx, lx0, lx1, lw in (('NS', RED, 1564, 1598, 1660, 1.6),
                                    ('EW', GREEN, 1720, 1758, 1819, 1.6),
                                    ('UD', BLUE, 1884, 1918, 1980, 1.6),
                                    ('Horizon', 'black', 2003, 2075, 2138, 2.8)):
    ftext(tx, 1561, name, fontsize=11.5, va='center')
    fline(lx0, lx1, 1561, color=col, lw=lw)

fig.savefig('out.png', dpi=100)
